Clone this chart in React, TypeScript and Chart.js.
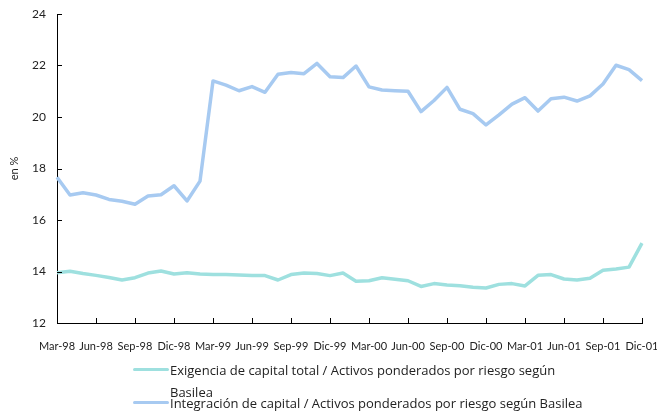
import React, { useEffect, useRef } from "react";
import { Chart, registerables } from "chart.js";

Chart.register(...registerables);

const months: string[] = [
  "Mar-98", "Abr-98", "May-98", "Jun-98", "Jul-98", "Ago-98", "Sep-98", "Oct-98", "Nov-98", "Dic-98",
  "Ene-99", "Feb-99", "Mar-99", "Abr-99", "May-99", "Jun-99", "Jul-99", "Ago-99", "Sep-99", "Oct-99", "Nov-99", "Dic-99",
  "Ene-00", "Feb-00", "Mar-00", "Abr-00", "May-00", "Jun-00", "Jul-00", "Ago-00", "Sep-00", "Oct-00", "Nov-00", "Dic-00",
  "Ene-01", "Feb-01", "Mar-01", "Abr-01", "May-01", "Jun-01", "Jul-01", "Ago-01", "Sep-01", "Oct-01", "Nov-01", "Dic-01",
];

const exigencia: number[] = [
  13.95, 14.01, 13.92, 13.85, 13.77, 13.67, 13.76, 13.94, 14.02, 13.90, 13.95, 13.90,
  13.88, 13.88, 13.86, 13.84, 13.84, 13.67, 13.88, 13.94, 13.92, 13.84,
  13.94, 13.62, 13.64, 13.76, 13.70, 13.64, 13.42, 13.53, 13.48, 13.45, 13.39, 13.36,
  13.50, 13.53, 13.44, 13.85, 13.88, 13.71, 13.67, 13.74, 14.05, 14.10, 14.17, 15.10,
];

const integracion: number[] = [
  17.66, 16.97, 17.06, 16.97, 16.80, 16.73, 16.61, 16.93, 16.98, 17.33, 16.74, 17.51,
  21.40, 21.24, 21.02, 21.18, 20.96, 21.66, 21.73, 21.68, 22.08, 21.56,
  21.53, 21.98, 21.17, 21.05, 21.02, 21.00, 20.21, 20.64, 21.15, 20.30, 20.13, 19.69,
  20.08, 20.50, 20.75, 20.23, 20.71, 20.77, 20.62, 20.82, 21.28, 22.01, 21.84, 21.41,
];

const seriesNames: string[] = [
  "Exigencia de capital total / Activos ponderados por riesgo según Basilea",
  "Integración de capital / Activos ponderados por riesgo según Basilea",
];
const yTitle = "en %";

const TEAL = "#9EE0DF";
const BLUE = "#A7CAF1";
const FONT = "Lato, 'Open Sans', sans-serif";
const LEGEND_FONT = "'Open Sans', Lato, sans-serif";

const innerTicks = {
  id: "innerTicks",
  afterDraw(chart: any) {
    const { ctx, chartArea, scales } = chart;
    ctx.save();
    ctx.strokeStyle = "#000";
    ctx.lineWidth = 1;
    ctx.beginPath();
    const ys = scales.y;
    ys.ticks.forEach((t: any) => {
      const py = Math.round(ys.getPixelForValue(t.value)) + 0.5;
      ctx.moveTo(chartArea.left, py);
      ctx.lineTo(chartArea.left + 5, py);
    });
    const xs = scales.x;
    months.forEach((_m, i) => {
      if (i % 3 === 0) {
        const px = Math.round(xs.getPixelForValue(i)) + 0.5;
        ctx.moveTo(px, chartArea.bottom);
        ctx.lineTo(px, chartArea.bottom - 5);
      }
    });
    ctx.stroke();
    ctx.restore();
  },
};

export default function App() {
  const ref = useRef<HTMLCanvasElement>(null);
  useEffect(() => {
    if (!ref.current) return;
    const chart = new Chart(ref.current, {
      type: "line",
      data: {
        labels: months,
        datasets: [
          {
            label: seriesNames[0],
            data: exigencia,
            borderColor: TEAL,
            backgroundColor: TEAL,
            borderWidth: 3.5,
            pointRadius: 0,
            tension: 0,
            borderJoinStyle: "round",
          },
          {
            label: seriesNames[1],
            data: integracion,
            borderColor: BLUE,
            backgroundColor: BLUE,
            borderWidth: 3.5,
            pointRadius: 0,
            tension: 0,
            borderJoinStyle: "round",
          },
        ],
      },
      options: {
        animation: false,
        responsive: false,
        maintainAspectRatio: false,
        layout: { padding: { top: 14, right: 15, left: 0, bottom: 0 } },
        plugins: { legend: { display: false }, tooltip: { enabled: false } },
        scales: {
          x: {
            type: "category",
            offset: false,
            grid: { display: false, drawTicks: false, tickLength: 0 },
            border: { display: true, color: "#000", width: 1 },
            ticks: {
              autoSkip: false,
              maxRotation: 0,
              minRotation: 0,
              padding: 17,
              color: "#222",
              font: { family: FONT, size: 11 },
              callback: (_v: any, i: number) => (i % 3 === 0 ? months[i] : ""),
            },
            afterFit: (s: any) => {
              s.height = 93;
              s.paddingLeft = 0;
              s.paddingRight = 0;
            },
          },
          y: {
            min: 12,
            max: 24,
            grid: { display: false, drawTicks: false, tickLength: 0 },
            border: { display: true, color: "#000", width: 1 },
            ticks: {
              stepSize: 2,
              padding: 11,
              color: "#222",
              font: { family: FONT, size: 12 },
            },
            title: {
              display: true,
              text: yTitle,
              color: "#222",
              font: { family: FONT, size: 11 },
              padding: { top: 8, bottom: 0 },
            },
            afterFit: (s: any) => {
              s.width = 57;
              s.paddingTop = 0;
              s.paddingBottom = 0;
            },
          },
        },
      },
      plugins: [innerTicks],
    });
    return () => chart.destroy();
  }, []);

  const legendText: React.CSSProperties = {
    position: "absolute",
    fontFamily: LEGEND_FONT,
    fontSize: 13,
    color: "#222",
  };
  const swatch = (color: string, top: number): React.CSSProperties => ({
    position: "absolute",
    left: 133,
    top,
    width: 36,
    height: 3,
    background: color,
    borderRadius: 2,
  });

  return (
    <div style={{ position: "absolute", left: 0, top: 0, width: 657, height: 416, background: "#fff" }}>
      <canvas ref={ref} width={657} height={416} style={{ position: "absolute", left: 0, top: 0 }} />
      <div style={swatch(TEAL, 368)} />
      <div style={{ ...legendText, left: 170, top: 359, width: 400, lineHeight: "22px" }}>{seriesNames[0]}</div>
      <div style={swatch(BLUE, 401)} />
      <div style={{ ...legendText, left: 170, top: 392, whiteSpace: "nowrap", lineHeight: "22px" }}>{seriesNames[1]}</div>
    </div>
  );
}
